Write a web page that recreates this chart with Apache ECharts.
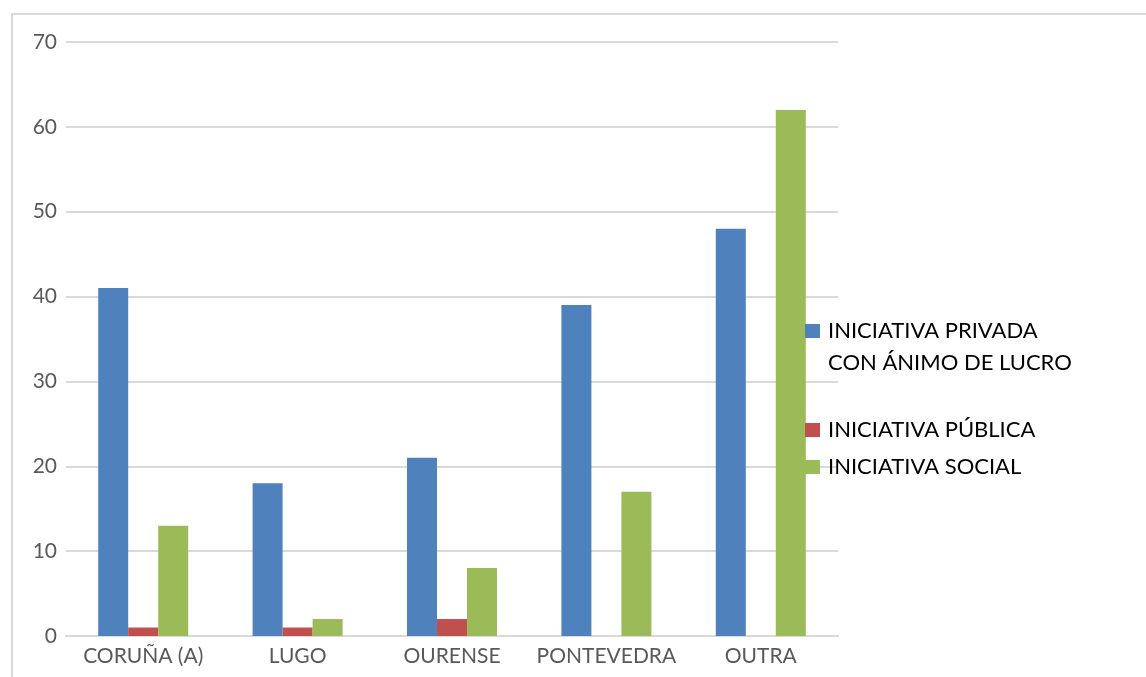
<!DOCTYPE html>
<html>
<head>
<meta charset="utf-8">
<script src="https://cdn.jsdelivr.net/npm/echarts@6/dist/echarts.min.js"></script>
<style>
html,body{margin:0;padding:0;background:#fff;}
#chart{width:1146px;height:677px;}
</style>
</head>
<body>
<div id="chart"></div>
<script>
const categories = ['CORUÑA (A)', 'LUGO', 'OURENSE', 'PONTEVEDRA', 'OUTRA'];
const seriesNames = ['INICIATIVA PRIVADA CON ÁNIMO DE LUCRO', 'INICIATIVA PÚBLICA', 'INICIATIVA SOCIAL'];
const privada = [41, 18, 21, 39, 48];
const publica = [1, 1, 2, 0, 0];
const social = [13, 2, 8, 17, 62];
const yTicks = [0, 10, 20, 30, 40, 50, 60, 70];

const colors = ['#4f81bd', '#c0504d', '#9bbb59'];
const FONT = 'Lato';

const chart = echarts.init(document.getElementById('chart'), null, {renderer: 'canvas'});

function legendFor(idx, top, formatter) {
  return {
    show: true,
    left: 805,
    top: top,
    padding: 0,
    itemWidth: 15,
    itemHeight: 14,
    selectedMode: false,
    data: [{name: seriesNames[idx], icon: 'rect', itemStyle: {color: colors[idx]}}],
    formatter: formatter,
    textStyle: {
      fontFamily: FONT, fontSize: 22, color: '#000', lineHeight: 32, padding: [0, 0, 0, 3]
    }
  };
}

const option = {
  animation: false,
  backgroundColor: '#fff',
  color: colors,
  graphic: [{
    type: 'rect',
    shape: {x: 12, y: 14, width: 1200, height: 700},
    style: {fill: 'none', stroke: '#d9d9d9', lineWidth: 2},
    silent: true
  }],
  grid: {left: 66, top: 42, width: 772, height: 594, containLabel: false},
  legend: [
    legendFor(0, 283, function () { return '\nINICIATIVA PRIVADA\nCON ÁNIMO DE LUCRO'; }),
    legendFor(1, 414, null),
    legendFor(2, 451, null)
  ],
  xAxis: {
    type: 'category',
    data: categories,
    axisTick: {show: false},
    axisLine: {show: true, lineStyle: {color: '#d9d9d9', width: 2}},
    axisLabel: {fontFamily: FONT, fontSize: 21, color: '#595959', margin: 10, interval: 0}
  },
  yAxis: {
    type: 'value',
    min: yTicks[0],
    max: yTicks[yTicks.length - 1],
    interval: 10,
    axisLine: {show: false},
    axisTick: {show: false},
    splitLine: {lineStyle: {color: '#d9d9d9', width: 2}},
    axisLabel: {fontFamily: FONT, fontSize: 21, color: '#595959', margin: 9}
  },
  series: [
    {name: seriesNames[0], type: 'bar', data: privada, barWidth: 30, barGap: '0%', itemStyle: {color: colors[0]}},
    {name: seriesNames[1], type: 'bar', data: publica, barWidth: 30, barGap: '0%', itemStyle: {color: colors[1]}},
    {name: seriesNames[2], type: 'bar', data: social, barWidth: 30, barGap: '0%', itemStyle: {color: colors[2]}}
  ]
};
chart.setOption(option);
</script>
</body>
</html>
